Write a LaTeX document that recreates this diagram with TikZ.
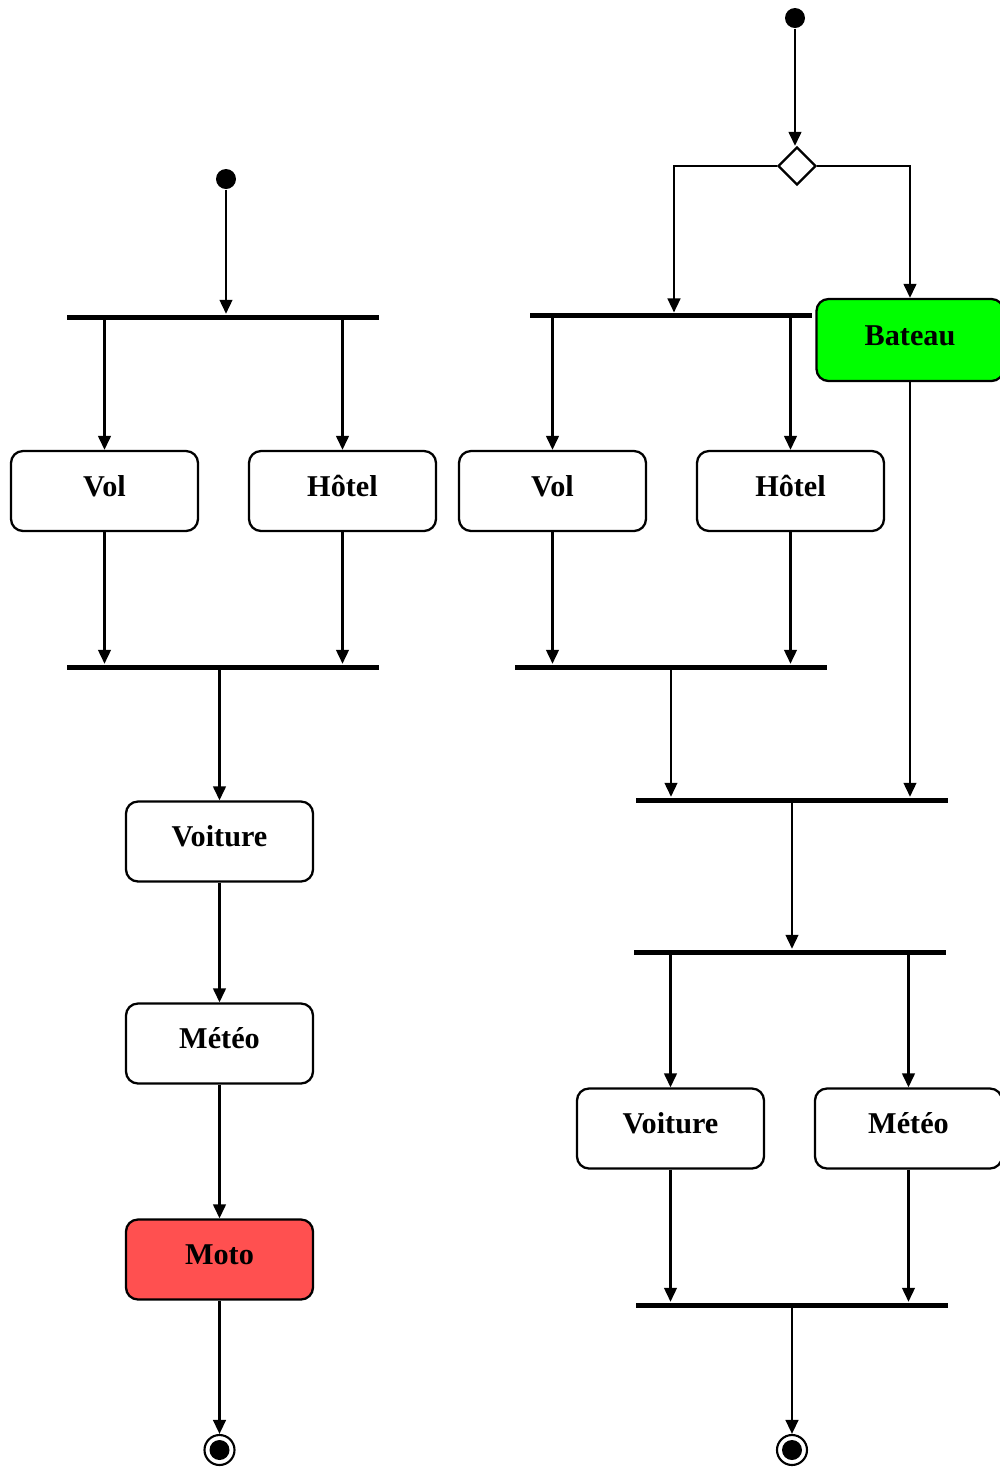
\documentclass[tikz,border=0pt]{standalone}
\usepackage{fontspec}
\setmainfont{Liberation Serif}
\usetikzlibrary{arrows.meta,shapes.geometric}
\definecolor{vertbateau}{RGB}{0,255,0}
\definecolor{rougemoto}{RGB}{255,80,80}

\begin{document}
\begin{tikzpicture}[
	every edge/.style={draw=black, line width=0.7pt},
	fl/.style={draw=black, line width=0.7pt, -{Triangle[length=4pt,width=3.6pt]}},
	action/.style={rectangle, rounded corners=0.12cm, draw=black, line width=0.65pt, fill=white,
		minimum width=1.87cm, minimum height=0.8cm, inner sep=0pt, text height=0.22cm, text depth=0.12cm,
		font=\fontsize{8.6}{10}\selectfont\bfseries},
	barre/.style={rectangle, fill=black, draw=none, minimum width=3.12cm, minimum height=0.05cm, inner sep=0pt},
	debut/.style={circle, fill=black, draw=none, minimum size=0.2cm, inner sep=0pt},
	fin/.style={circle, draw=black, line width=0.6pt, fill=white, minimum size=0.3cm, inner sep=0pt,
		path picture={\fill[black] (path picture bounding box.center) circle (0.1);}},
	choix/.style={diamond, draw=black, line width=0.65pt, fill=white, minimum size=0.38cm, inner sep=0pt, aspect=1}]
	\useasboundingbox (0,0) rectangle (10,-14.68);

	% gauche
	\node[debut] (s1) at (2.26,-1.79){};
	\node[barre] (f1) at (2.23,-3.17){};
	\node[action] (vol1) at (1.045,-4.91){Vol};
	\node[action] (hot1) at (3.425,-4.91){Hôtel};
	\node[barre] (j1) at (2.23,-6.67){};
	\node[action] (voit1) at (2.195,-8.415){Voiture};
	\node[action] (met1) at (2.195,-10.435){Météo};
	\node[action, fill=rougemoto] (moto) at (2.195,-12.595){Moto};
	\node[fin] (e1) at (2.195,-14.50){};

	\path (s1) edge[fl] (s1 |- f1.north);
	\path (f1.south -| vol1) edge[fl] (vol1);
	\path (f1.south -| hot1) edge[fl] (hot1);
	\path (vol1) edge[fl] (vol1 |- j1.north);
	\path (hot1) edge[fl] (hot1 |- j1.north);
	\path (j1.south -| voit1) edge[fl] (voit1);
	\path (voit1) edge[fl] (met1);
	\path (met1) edge[fl] (moto);
	\path (moto) edge[fl] (e1);

	% droite
	\node[debut] (s2) at (7.95,-0.18){};
	\node[choix] (d2) at (7.97,-1.66){};
	\node[barre, minimum width=2.82cm] (f2) at (6.71,-3.15){};
	\coordinate (b2) at (6.74,-3.125);
	\node[action, fill=vertbateau, minimum height=0.82cm] (bat) at (9.10,-3.40){Bateau};
	\node[action] (vol2) at (5.525,-4.91){Vol};
	\node[action] (hot2) at (7.905,-4.91){Hôtel};
	\node[barre] (j2) at (6.71,-6.67){};
	\node[barre] (f3) at (7.92,-8.00){};
	\node[barre] (f4) at (7.90,-9.52){};
	\node[action] (voit2) at (6.705,-11.285){Voiture};
	\node[action] (met2) at (9.085,-11.285){Météo};
	\node[barre] (j4) at (7.92,-13.05){};
	\node[fin] (e2) at (7.92,-14.50){};

	\path (s2) edge[fl] (s2 |- d2.north);
	\draw[fl] (d2.west) -| (b2);
	\draw[fl] (d2.east) -| (bat);
	\path (f2.south -| vol2) edge[fl] (vol2);
	\path (f2.south -| hot2) edge[fl] (hot2);
	\path (vol2) edge[fl] (vol2 |- j2.north);
	\path (hot2) edge[fl] (hot2 |- j2.north);
	\path (j2.south) edge[fl] (j2.south |- f3.north);
	\path (bat) edge[fl] (bat |- f3.north);
	\path (f3.south) edge[fl] (f3.south |- f4.north);
	\path (f4.south -| voit2) edge[fl] (voit2);
	\path (f4.south -| met2) edge[fl] (met2);
	\path (voit2) edge[fl] (voit2 |- j4.north);
	\path (met2) edge[fl] (met2 |- j4.north);
	\path (j4) edge[fl] (e2);
\end{tikzpicture}
\end{document}
